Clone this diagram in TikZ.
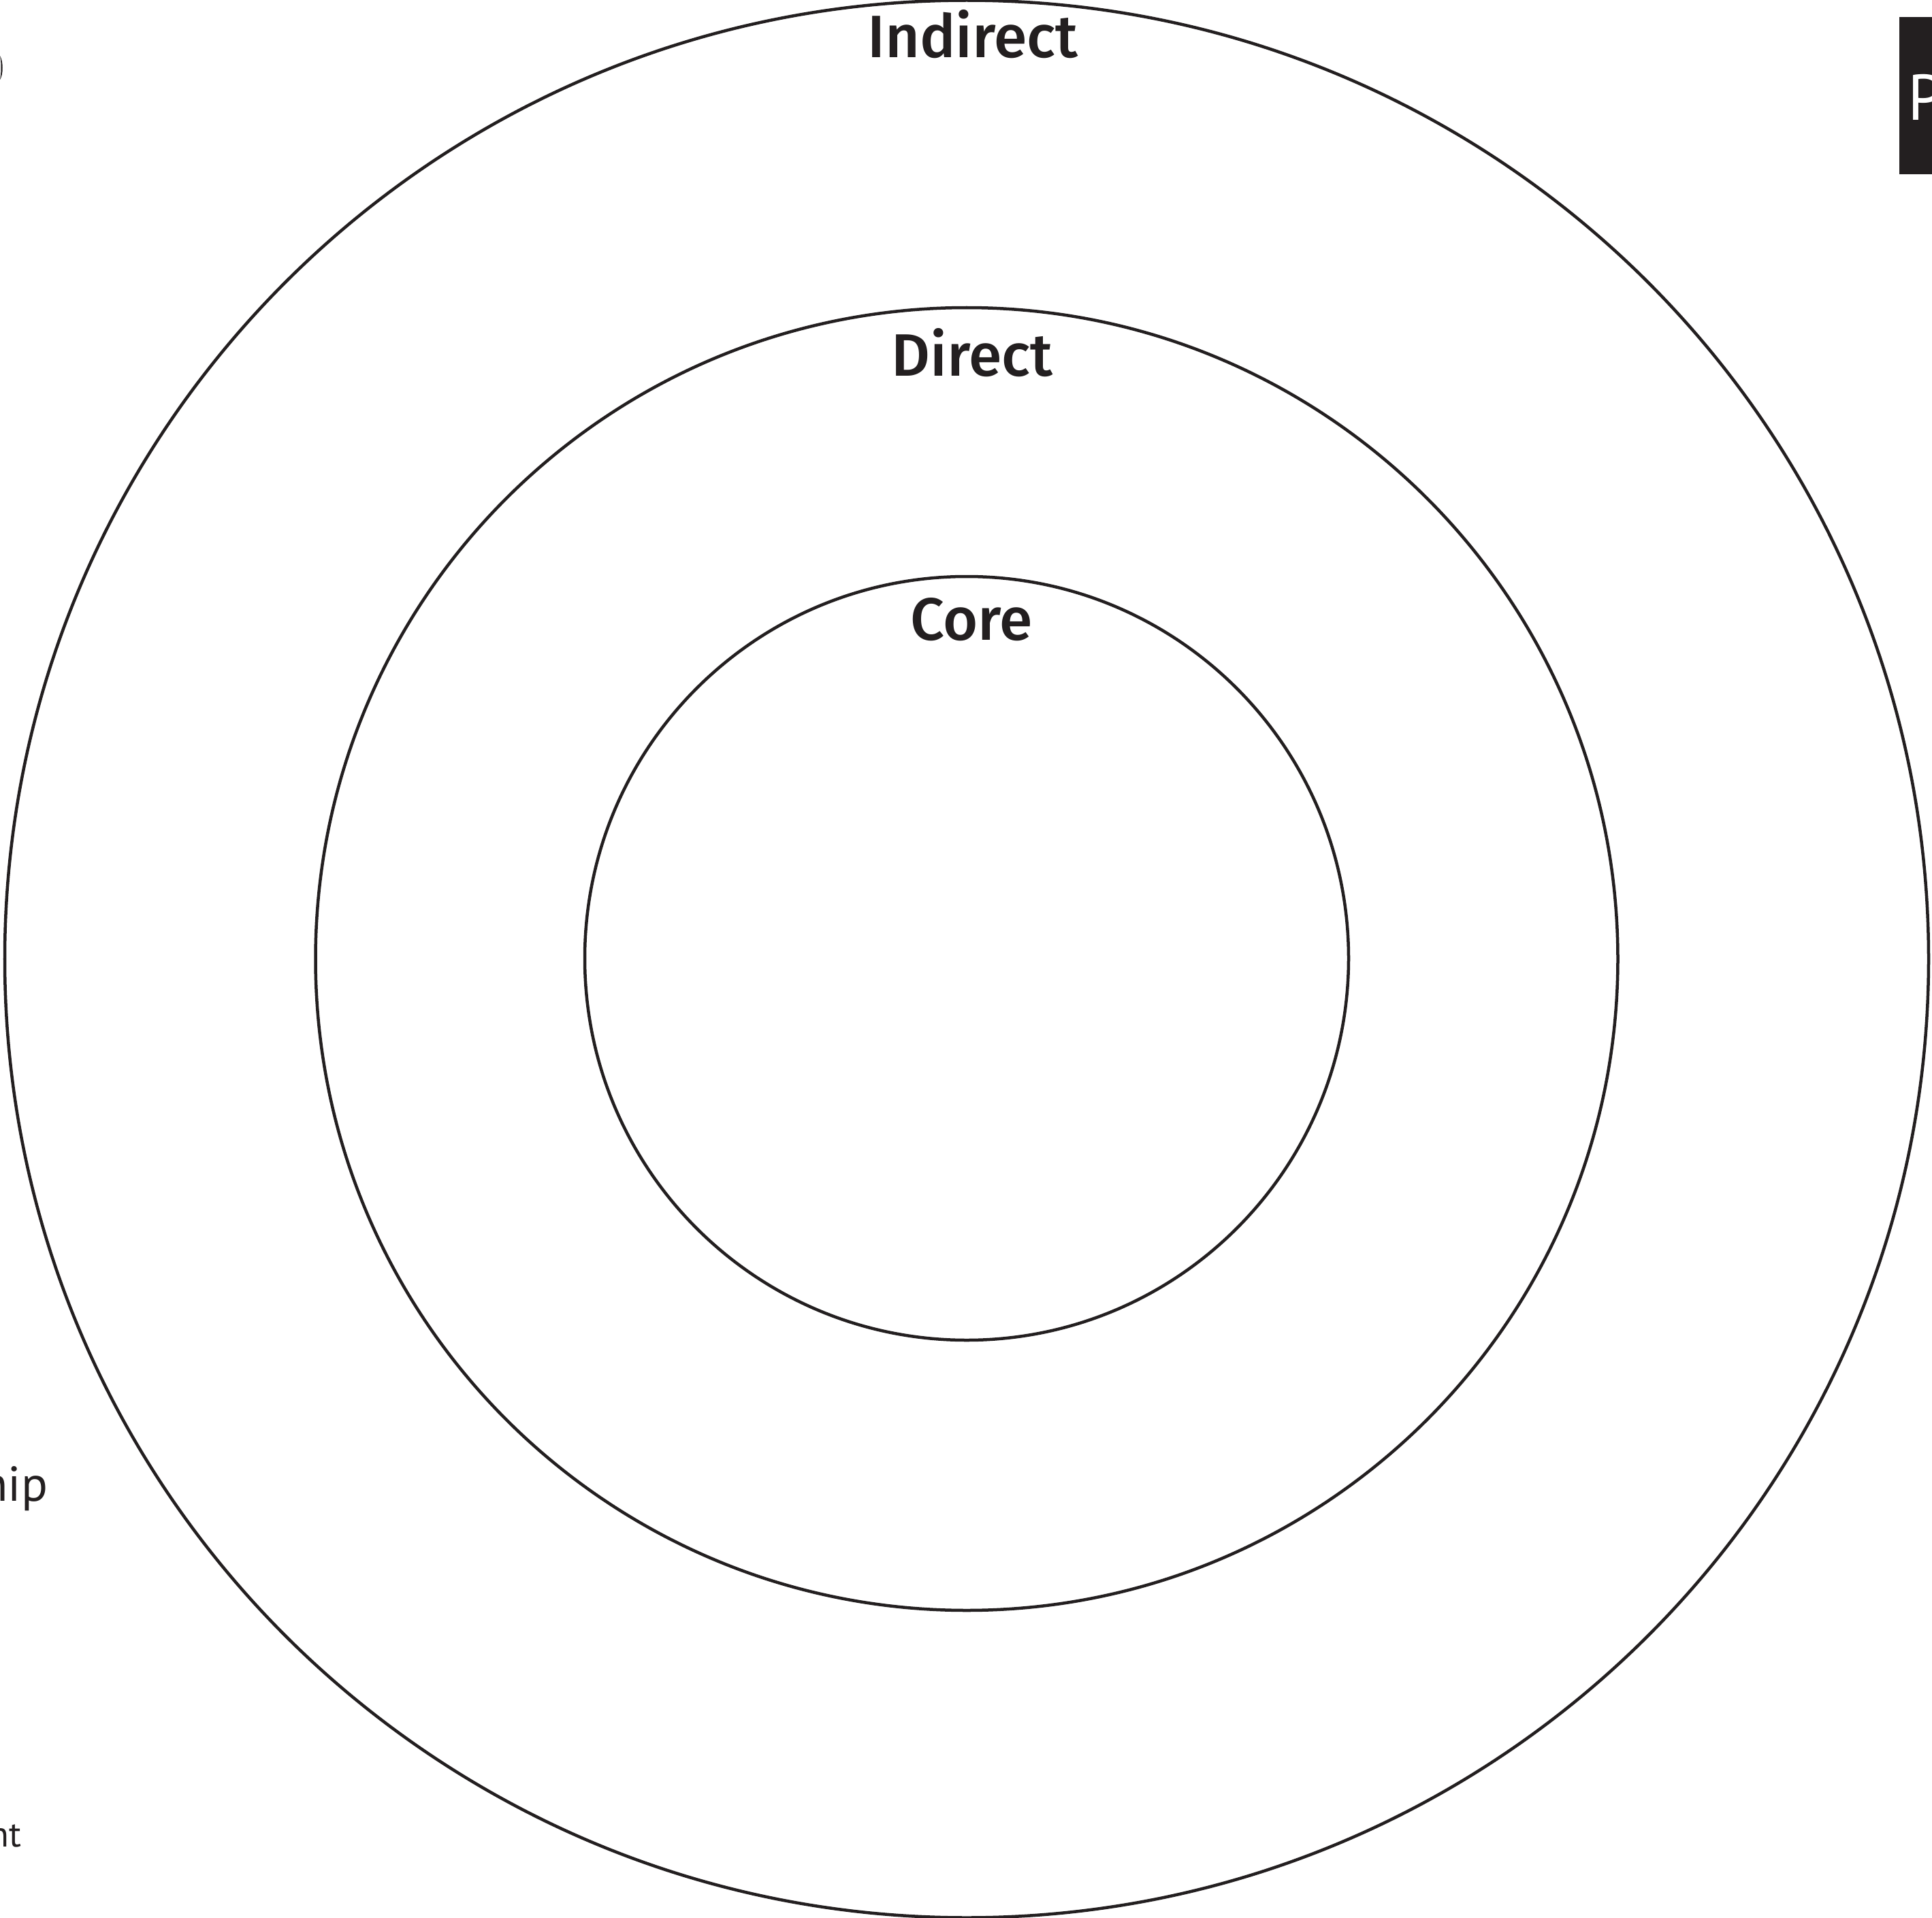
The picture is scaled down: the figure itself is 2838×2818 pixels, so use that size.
\documentclass[tikz,border=0pt]{standalone}
\usepackage{fontspec}
\setmainfont{Liberation Sans}
\newfontfamily\labelfont{Fira Sans Medium}
\newfontfamily\smallfont{PT Sans}
\definecolor{ink}{HTML}{231F20}
\begin{document}
\begin{tikzpicture}[x=0.01cm,y=-0.01cm,
  ring/.style={draw=ink,line width=0.045cm},
  ringlabel/.style={font=\labelfont\fontsize{25}{30}\selectfont,text=ink,inner sep=0pt,anchor=base},
  fragment/.style={font=\smallfont,text=ink,inner sep=0pt,anchor=base east}]
\useasboundingbox (0,0) rectangle (2838,2818);
\coordinate (c) at (1420,1409);
\draw[ring] (c) ellipse [x radius=1413, y radius=1408.5];
\draw[ring] (c) ellipse [x radius=956.5, y radius=957];
\draw[ring] (1420,1408) circle [radius=561];
\node[ringlabel] (indirect) at (1429,85) {Indirect};
\node[ringlabel] (direct) at (1428,552) {Direct};
\node[ringlabel] (core) at (1427,940) {Core};
% top-right dark tab
\fill[ink] (2790,25) rectangle (2850,256);
\node[font=\smallfont\fontsize{27}{30}\selectfont,text=white,inner sep=0pt,anchor=base west] (ptab) at (2802,177) {P};
% clipped fragments at the left edge
\fill[ink] (0,82) .. controls (5,90) and (5,110) .. (0,117) .. controls (2,108) and (2,90) .. (0,82);
\node[fragment,font=\smallfont\fontsize{20.5}{24}\selectfont] (nip) at (71,2205) {nip};
\node[fragment,font=\smallfont\fontsize{15}{18}\selectfont] (nt) at (32,2713) {nt};
\end{tikzpicture}
\end{document}
